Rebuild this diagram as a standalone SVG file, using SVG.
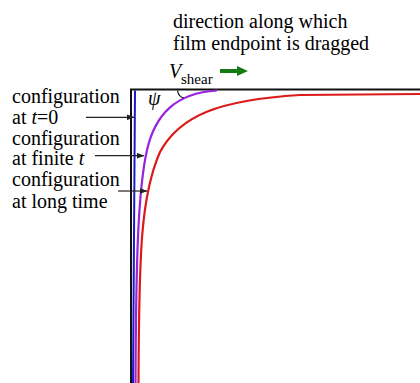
<svg xmlns="http://www.w3.org/2000/svg" width="420" height="383" viewBox="0 0 420 383">
<style>
.tx{font-family:'Liberation Serif','DejaVu Serif',serif;font-size:20px;fill:#000}
.it{font-style:italic}
.ln{fill:none;stroke-linecap:butt}
.lead{stroke:#222;stroke-width:1.2;fill:none}
</style>
<defs>
<marker id="ah" markerWidth="8" markerHeight="6" refX="7.5" refY="3" orient="auto" markerUnits="userSpaceOnUse">
<path d="M0,0 L8,3 L0,6 Z" fill="#222"/>
</marker>
</defs>
<rect width="420" height="383" fill="#fff"/>
<g id="frame">
<path class="ln" d="M131,383 L131,89.5 L420,89.5" stroke="#111" stroke-width="2"/>
</g>
<g id="curve-t0">
<path class="ln" d="M135,90.5 L133,383" stroke="#1a1acc" stroke-width="2"/>
</g>
<g id="curve-finite">
<path class="ln" d="M135.5,383 C136,260 138,190 147,150 C155,115 175,93 217,90.5" stroke="#9a22dd" stroke-width="2.2"/>
</g>
<g id="curve-long">
<path class="ln" d="M138.5,383 C139,250 141,195 160,152 C180,115 220,100 300,95 L420,94" stroke="#dd1a1a" stroke-width="2.2"/>
</g>
<g id="angle" font-family="Liberation Serif, DejaVu Serif, serif">
<path class="ln" d="M177.5,90.5 Q178.5,97 184,98" stroke="#111" stroke-width="1.2"/>
<text class="tx it" x="148" y="105">ψ</text>
</g>
<g id="title" font-family="Liberation Serif, DejaVu Serif, serif">
<text class="tx" x="173" y="28">direction along which</text>
<text class="tx" x="173" y="50">film endpoint is dragged</text>
</g>
<g id="vshear" font-family="Liberation Serif, DejaVu Serif, serif">
<text class="tx it" x="169" y="78">V</text>
<text class="tx" x="181" y="84" font-size="15" style="font-size:15px">shear</text>
<path d="M220,69 L237,69 L237,66 L248,71 L237,76 L237,73 L220,73 Z" fill="#147a14"/>
</g>
<g id="label-t0" font-family="Liberation Serif, DejaVu Serif, serif">
<text class="tx" x="12" y="103">configuration</text>
<text class="tx" x="12" y="123.5">at <tspan class="it">t</tspan>=0</text>
</g>
<g id="label-finite" font-family="Liberation Serif, DejaVu Serif, serif">
<text class="tx" x="12" y="144.5">configuration</text>
<text class="tx" x="12" y="165">at finite <tspan class="it">t</tspan></text>
</g>
<g id="label-long" font-family="Liberation Serif, DejaVu Serif, serif">
<text class="tx" x="12" y="186">configuration</text>
<text class="tx" x="12" y="207.5">at long time</text>
</g>
<g id="connectors">
<line class="lead" x1="86" y1="117.3" x2="134" y2="117.3" marker-end="url(#ah)"/>
<line class="lead" x1="95" y1="155.7" x2="144" y2="155.7" marker-end="url(#ah)"/>
<line class="lead" x1="118" y1="191" x2="147" y2="191" marker-end="url(#ah)"/>
</g>
</svg>
